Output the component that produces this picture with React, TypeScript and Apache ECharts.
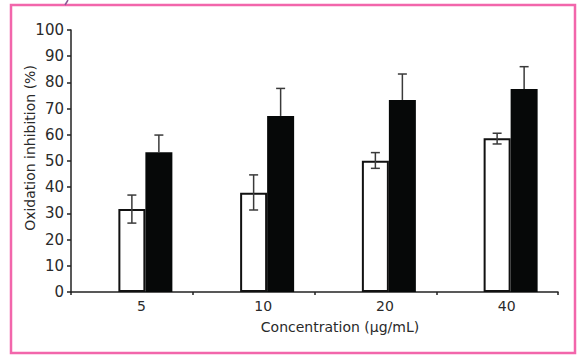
import React, { useEffect, useRef } from "react";
import * as echarts from "echarts";

const categories = ["5", "10", "20", "40"];
const whiteValues = [31.7, 37.9, 50.1, 58.7];
const whiteLow = [26.3, 31.3, 47.2, 56.5];
const whiteHigh = [37.0, 44.7, 53.2, 60.6];
const blackValues = [53.3, 67.2, 73.3, 77.5];
const blackHigh = [59.9, 77.7, 83.2, 86.0];
const yTicks = [0, 100, 10]; // min, max, interval

const FONT = "DejaVu Sans";
const BAR_W = 27;

export default function App() {
  const ref = useRef<HTMLDivElement>(null);
  useEffect(() => {
    if (!ref.current) return;
    const chart = echarts.init(ref.current, null, { renderer: "svg" });

    const errData: any[] = [];
    categories.forEach((_, i) => {
      errData.push([i, whiteValues[i], whiteLow[i], whiteHigh[i], -1]);
      errData.push([i, blackValues[i], blackValues[i], blackHigh[i], 1]);
    });

    const gridBase = { top: 30, bottom: 66, height: 262, width: 487 };

    chart.setOption({
      animation: false,
      backgroundColor: "#ffffff",
      grid: [
        { ...gridBase, left: 71 },
        { ...gridBase, left: 84.5 },
      ],
      xAxis: [
        {
          type: "category",
          gridIndex: 0,
          data: categories,
          boundaryGap: true,
          axisLine: { lineStyle: { color: "#222", width: 1.5 } },
          axisTick: { show: true, length: 3, lineStyle: { color: "#222", width: 1.5 } },
          axisLabel: { show: false },
        },
        {
          type: "category",
          gridIndex: 1,
          data: categories,
          boundaryGap: true,
          axisLine: { show: false },
          axisTick: { show: false },
          axisLabel: {
            show: true,
            fontFamily: FONT,
            fontSize: 14,
            color: "#2a2a2a",
            margin: 7,
            padding: [0, 8, 0, 0],
          },
        },
      ],
      yAxis: [
        {
          type: "value",
          gridIndex: 0,
          min: yTicks[0],
          max: yTicks[1],
          interval: yTicks[2],
          splitLine: { show: false },
          axisLine: { show: true, lineStyle: { color: "#222", width: 1.5 } },
          axisTick: { show: true, length: 4, lineStyle: { color: "#222", width: 1.5 } },
          axisLabel: { fontFamily: FONT, fontSize: 15, color: "#2a2a2a", margin: 7 },
        },
        {
          type: "value",
          gridIndex: 1,
          min: yTicks[0],
          max: yTicks[1],
          interval: yTicks[2],
          show: false,
          splitLine: { show: false },
        },
      ],
      series: [
        {
          type: "bar",
          xAxisIndex: 1,
          yAxisIndex: 1,
          data: whiteValues,
          barWidth: BAR_W,
          barGap: "0%",
          itemStyle: { color: "#ffffff", borderColor: "#111", borderWidth: 2 },
        },
        {
          type: "bar",
          xAxisIndex: 1,
          yAxisIndex: 1,
          data: blackValues,
          barWidth: BAR_W,
          barGap: "0%",
          itemStyle: { color: "#060808" },
        },
        {
          type: "custom",
          xAxisIndex: 1,
          yAxisIndex: 1,
          data: errData,
          z: 10,
          renderItem: (params: any, api: any) => {
            const cat = api.value(0);
            const off = api.value(4) * (BAR_W / 2);
            const low = api.coord([cat, api.value(2)]);
            const high = api.coord([cat, api.value(3)]);
            const x = low[0] + off;
            const cap = 4.5;
            const style = { stroke: "#3a3a3a", lineWidth: 1.5 };
            const children: any[] = [
              { type: "line", shape: { x1: x, y1: low[1], x2: x, y2: high[1] }, style },
              { type: "line", shape: { x1: x - cap, y1: high[1], x2: x + cap, y2: high[1] }, style },
            ];
            if (api.value(4) < 0) {
              children.push({ type: "line", shape: { x1: x - cap, y1: low[1], x2: x + cap, y2: low[1] }, style });
            }
            return { type: "group", children };
          },
        },
      ],
      graphic: [
        {
          type: "rect",
          shape: { x: 11, y: 5, width: 564, height: 348 },
          style: { fill: "none", stroke: "#f266ab", lineWidth: 2.5 },
          silent: true,
        },
        {
          type: "line",
          shape: { x1: 68, y1: 0, x2: 65, y2: 5 },
          style: { stroke: "#8a5a96", lineWidth: 1.5 },
          silent: true,
        },
        {
          type: "text",
          x: 30,
          y: 148,
          rotation: Math.PI / 2,
          style: {
            text: "Oxidation inhibition (%)",
            fontFamily: FONT,
            fontSize: 14,
            fill: "#2a2a2a",
            align: "center",
            verticalAlign: "middle",
          },
        },
        {
          type: "text",
          x: 340,
          y: 327,
          style: {
            text: "Concentration (μg/mL)",
            fontFamily: FONT,
            fontSize: 14,
            fill: "#2a2a2a",
            align: "center",
            verticalAlign: "middle",
          },
        },
      ],
    });
    return () => chart.dispose();
  }, []);

  return <div ref={ref} style={{ width: 578, height: 358, position: "absolute", left: 0, top: 0 }} />;
}
